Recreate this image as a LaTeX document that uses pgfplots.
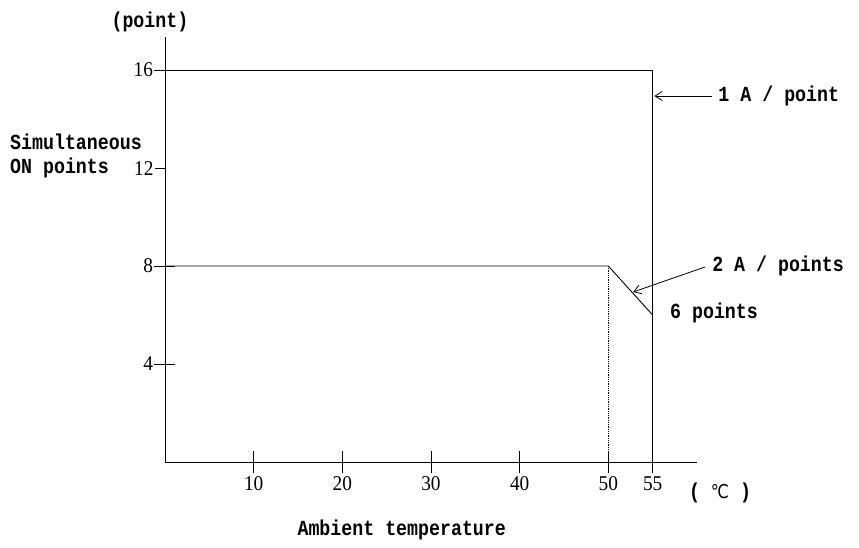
\documentclass[border=0pt]{standalone}
\usepackage{fontspec}
\setmainfont{Liberation Mono}[FakeStretch=0.85]
\newfontfamily\tickfont{Liberation Serif}[FakeStretch=0.92]
\newfontfamily\dejavu{DejaVu Sans}[FakeStretch=0.85]
\usepackage{pgfplots}
\pgfplotsset{compat=1.18}
\usetikzlibrary{arrows.meta}
\begin{document}
\begin{tikzpicture}
\useasboundingbox (-165bp,-86bp) rectangle (694bp,462bp);
\begin{axis}[
  at={(0,0)}, anchor=south west,
  scale only axis, width=532bp, height=425bp,
  xmin=0, xmax=60, ymin=0, ymax=17.35,
  axis x line=bottom, axis y line=left,
  axis line style={-, line width=0.9pt},
  tick style={black, line width=0.9pt},
  tick align=center, major tick length=21bp,
  xtick={10,20,30,40,50,55},
  ytick={4,8,16},
  extra y ticks={12},
  extra y tick style={tick align=outside, major tick length=10bp},
  /pgf/number format/assume math mode=true,
  ticklabel style={font=\tickfont\fontsize{21bp}{23bp}\selectfont},
  xticklabel style={yshift=-1bp},
  yticklabel style={xshift=2bp},
  clip=false,
]
\addplot[black, line width=0.9pt] coordinates {(0,16) (55,16) (55,0)};
\addplot[black, line width=0.9pt] coordinates {(0,8) (50,8) (55,6)};
\addplot[black, line width=0.8pt, densely dotted] coordinates {(50,8) (50,0)};

\draw[line width=0.8pt, -{Straight Barb[length=7bp,width=9bp]}] (axis cs:61.7,14.94) -- (axis cs:55.2,14.94);
\draw[line width=0.8pt, -{Straight Barb[length=7bp,width=9bp]}] (axis cs:60.9,7.96) -- (axis cs:52.8,6.94);

\begin{scope}[every node/.style={font=\bfseries\fontsize{21.5bp}{24bp}\selectfont, inner sep=0pt}]
\node[anchor=west] at (axis cs:62.4,14.94) {1 A / point};
\node[anchor=west] at (axis cs:61.7,8.0) {2 A / points};
\node[anchor=west] at (axis cs:56.95,6.1) {6 points};
\node at (axis cs:-1.7,17.96) {(point)};
\node[anchor=west] at (axis cs:-17.48,13.06) {Simultaneous};
\node[anchor=west] at (axis cs:-17.48,12.0) {ON points};
\node at (axis cs:62.6,-1.27) {( {\dejavu\mdseries\fontsize{19bp}{21bp}\selectfont ℃} )};
\node at (axis cs:26.7,-2.78) {Ambient temperature};
\end{scope}
\end{axis}
\end{tikzpicture}
\end{document}
